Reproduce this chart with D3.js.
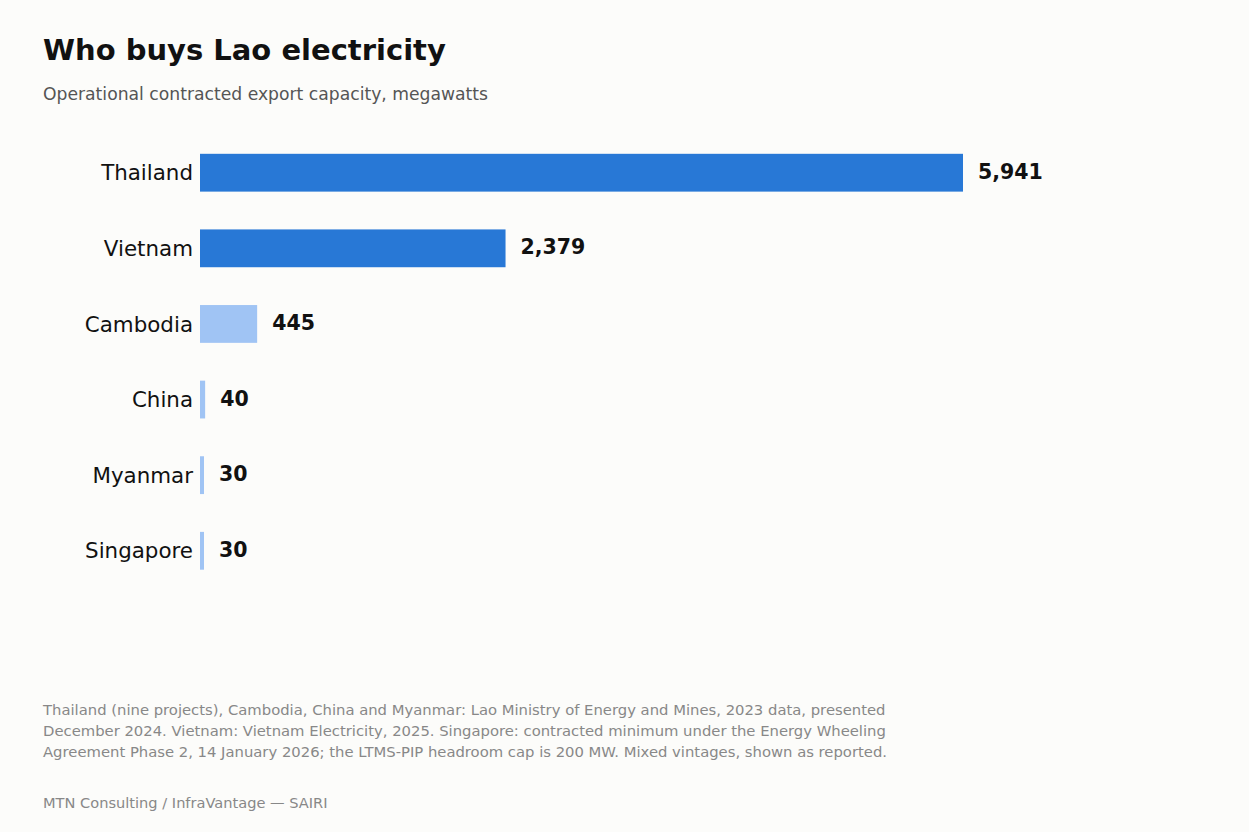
<!DOCTYPE html>
<html>
<head>
<meta charset="utf-8">
<script src="https://cdn.jsdelivr.net/npm/d3@7"></script>
<style>
  html, body { margin: 0; padding: 0; background: #fcfcfa; }
  svg { display: block; font-family: "DejaVu Sans", sans-serif; }
</style>
</head>
<body>
<script>
// data
const countries = ["Thailand", "Vietnam", "Cambodia", "China", "Myanmar", "Singapore"];
const capacityMW = [5941, 2379, 445, 40, 30, 30];
const isMajor = [true, true, false, false, false, false];

const noteLines = [
  "Thailand (nine projects), Cambodia, China and Myanmar: Lao Ministry of Energy and Mines, 2023 data, presented",
  "December 2024. Vietnam: Vietnam Electricity, 2025. Singapore: contracted minimum under the Energy Wheeling",
  "Agreement Phase 2, 14 January 2026; the LTMS-PIP headroom cap is 200 MW. Mixed vintages, shown as reported."
];
const sourceText = "MTN Consulting / InfraVantage \u2014 SAIRI";

const width = 1249, height = 832;

const svg = d3.select("body").append("svg")
  .attr("width", width)
  .attr("height", height);

svg.append("rect").attr("width", width).attr("height", height).attr("fill", "#fcfcfa");

// titles
svg.append("text")
  .attr("x", 43).attr("y", 60)
  .style("font-size", "29px").style("font-weight", "bold")
  .attr("fill", "#111")
  .text("Who buys Lao electricity");

svg.append("text")
  .attr("x", 43).attr("y", 100)
  .style("font-size", "17.2px")
  .attr("fill", "#555")
  .text("Operational contracted export capacity, megawatts");

// scales
const x = d3.scaleLinear()
  .domain([0, 5941])
  .range([200, 963]);

const y = d3.scaleBand()
  .domain(countries)
  .range([116, 607.5])
  .paddingInner(0.5)
  .paddingOuter(0.5);

const rows = countries.map((c, i) => ({ name: c, value: capacityMW[i], major: isMajor[i] }));

const g = svg.append("g");

g.selectAll("rect.bar")
  .data(rows)
  .join("rect")
  .attr("class", "bar")
  .attr("x", x(0))
  .attr("y", d => y(d.name))
  .attr("width", d => Math.max(4, x(d.value) - x(0)))
  .attr("height", y.bandwidth())
  .attr("fill", d => d.major ? "#2878d6" : "#a0c4f4");

// country labels
g.selectAll("text.cat")
  .data(rows)
  .join("text")
  .attr("class", "cat")
  .attr("x", 193)
  .attr("y", d => y(d.name) + y.bandwidth() / 2)
  .attr("dy", "0.36em")
  .attr("text-anchor", "end")
  .style("font-size", "21.4px")
  .attr("fill", "#111")
  .text(d => d.name);

// value labels
const fmt = d3.format(",");
g.selectAll("text.val")
  .data(rows)
  .join("text")
  .attr("class", "val")
  .attr("x", d => x(0) + Math.max(4, x(d.value) - x(0)) + 15)
  .attr("y", d => y(d.name) + y.bandwidth() / 2)
  .attr("dy", "0.3em")
  .style("font-size", "20.5px").style("font-weight", "bold")
  .attr("fill", "#111")
  .text(d => fmt(d.value));

// footnote
svg.append("g").selectAll("text")
  .data(noteLines)
  .join("text")
  .attr("x", 43)
  .attr("y", (d, i) => 715 + i * 21)
  .style("font-size", "14.8px")
  .attr("fill", "#888")
  .text(d => d);

svg.append("text")
  .attr("x", 43).attr("y", 808)
  .style("font-size", "14.6px")
  .attr("fill", "#888")
  .text(sourceText);
</script>
</body>
</html>
